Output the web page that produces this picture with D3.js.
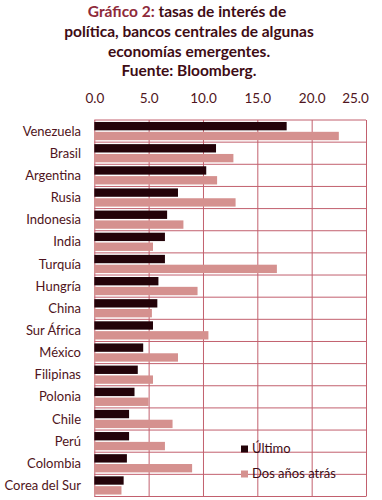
<!DOCTYPE html>
<html>
<head>
<meta charset="utf-8">
<script src="https://cdn.jsdelivr.net/npm/d3@7"></script>
<style>
  html, body { margin: 0; padding: 0; background: #ffffff; }
  svg { display: block; font-family: Lato, "Open Sans", sans-serif; }
</style>
</head>
<body>
<svg id="chart" width="382" height="500"></svg>
<script>
const categories = ["Venezuela","Brasil","Argentina","Rusia","Indonesia","India","Turquía","Hungría","China","Sur África","México","Filipinas","Polonia","Chile","Perú","Colombia","Corea del Sur"];
const ultimo     = [17.7, 11.2, 10.3, 7.7, 6.7, 6.5, 6.5, 5.9, 5.8, 5.4, 4.5, 4.0, 3.7, 3.2, 3.2, 3.0, 2.7];
const dosAnos    = [22.5, 12.8, 11.3, 13.0, 8.2, 5.4, 16.8, 9.5, 5.3, 10.5, 7.7, 5.4, 5.0, 7.2, 6.5, 9.0, 2.5];
const seriesNames = ["Último", "Dos años atrás"];
const tickValues = [0, 5, 10, 15, 20, 25];
const titleLines = ["tasas de interés de", "política, bancos centrales de algunas", "economías emergentes.", "Fuente: Bloomberg."];

const colors = { "Último": "#230309", "Dos años atrás": "#d5918f" };
const gridColor = "#c2606e";
const textColor = "#4f1420";

const svg = d3.select("#chart");

// Title
const title = svg.append("g").attr("text-anchor", "middle")
  .attr("font-weight", "bold").attr("font-size", 15.5).attr("fill", "#3e0c15");
const t0 = title.append("text").attr("x", 187).attr("y", 17);
t0.append("tspan").attr("fill", "#8e2a3a").text("Gráfico 2: ");
t0.append("tspan").text(titleLines[0]);
titleLines.slice(1).forEach((l, i) => {
  title.append("text").attr("x", 189).attr("y", 37 + i * 19.7).text(l);
});

// Scales
const x = d3.scaleLinear().domain([0, 25]).range([94.3, 366]);
const y = d3.scaleBand().domain(categories).range([120, 496.5]);
const ys = d3.scaleBand().domain(seriesNames).range([0, y.bandwidth()]).paddingInner(0.15).paddingOuter(0.2);

// Vertical gridlines + top tick labels
const xAxis = d3.axisTop(x).tickValues(tickValues).tickFormat(d3.format(".1f"))
  .tickSize(-(y.range()[1] - y.range()[0])).tickPadding(0);
const gx = svg.append("g").attr("transform", `translate(0,${y.range()[0]})`).call(xAxis);
gx.select(".domain").remove();
gx.selectAll(".tick line").attr("stroke", gridColor).attr("stroke-width", 1);
gx.selectAll(".tick text").attr("fill", textColor).attr("font-size", 13.5)
  .attr("font-family", "Lato, sans-serif").attr("y", -17)
  .attr("dx", d => d === 25 ? -11 : 0);

// Horizontal gridlines at band boundaries
const hLines = categories.map(c => y(c)).concat([y.range()[1]]);
svg.append("g").selectAll("line").data(hLines).join("line")
  .attr("x1", x(0)).attr("x2", x(25))
  .attr("y1", d => d).attr("y2", d => d)
  .attr("stroke", gridColor).attr("stroke-width", 1);

// Bars
const rows = categories.map((c, i) => ({ c, vals: [ultimo[i], dosAnos[i]] }));
const gRows = svg.append("g").selectAll("g").data(rows).join("g")
  .attr("transform", d => `translate(0,${y(d.c)})`);
gRows.selectAll("rect").data(d => d.vals.map((v, j) => ({ s: seriesNames[j], v })))
  .join("rect")
  .attr("x", x(0))
  .attr("y", d => ys(d.s))
  .attr("width", d => x(d.v) - x(0))
  .attr("height", ys.bandwidth())
  .attr("fill", d => colors[d.s]);

// Category labels
svg.append("g").selectAll("text").data(categories).join("text")
  .attr("x", 81).attr("y", c => y(c) + y.bandwidth() / 2)
  .attr("dy", "0.35em").attr("text-anchor", "end")
  .attr("font-size", 13).attr("fill", textColor).text(c => c);

// Legend
const legend = svg.append("g");
seriesNames.forEach((s, i) => {
  const ly = 453 + i * 25;
  legend.append("rect").attr("x", 241).attr("y", ly - 7.5).attr("width", 7).attr("height", 7).attr("fill", colors[s]);
  legend.append("text").attr("x", 252).attr("y", ly).attr("font-size", 13)
    .attr("fill", "#3e0c15").text(s);
});
</script>
</body>
</html>
